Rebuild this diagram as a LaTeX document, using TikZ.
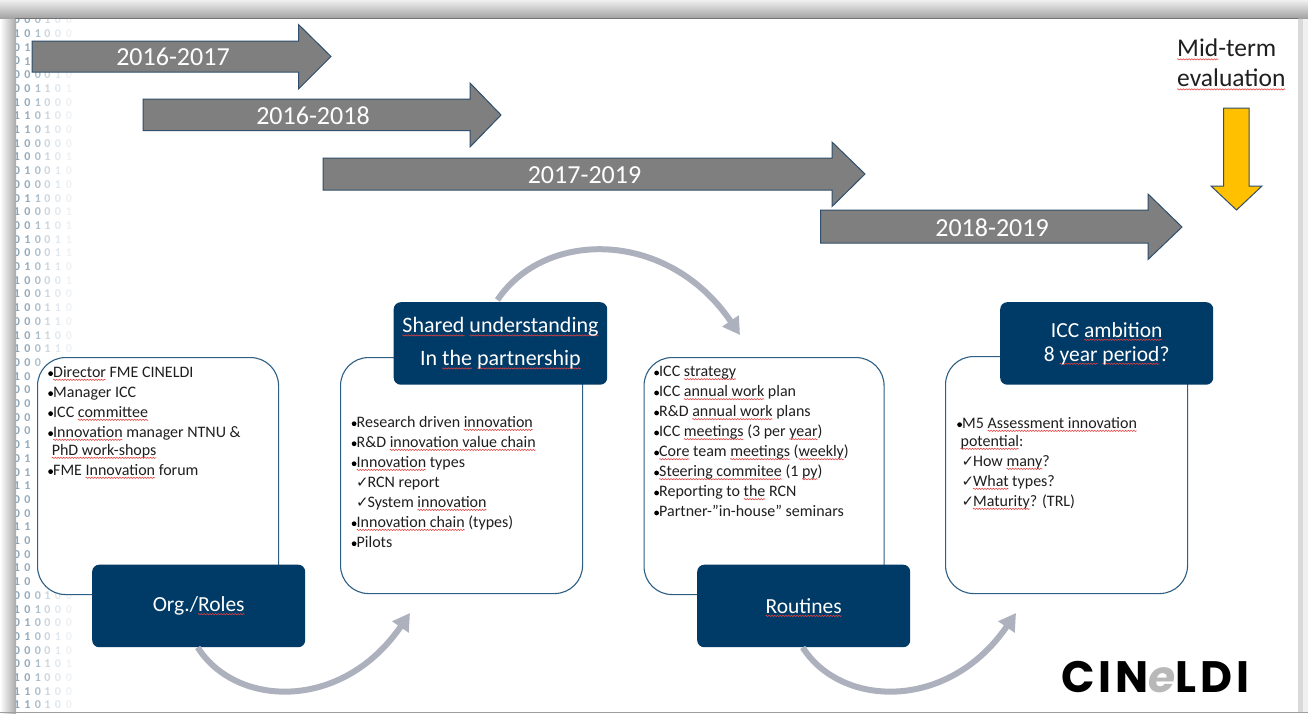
\documentclass[tikz,border=0pt]{standalone}
\usepackage{fontspec}
\setmainfont{Carlito}
\newfontfamily\symf{DejaVu Sans}
\newfontfamily\logof[LetterSpace=9]{Poppins}
\usetikzlibrary{arrows.meta,decorations.pathmorphing}
\definecolor{navy}{HTML}{003A66}
\definecolor{edge}{HTML}{2E5F85}
\definecolor{arrowgrey}{HTML}{7F7F7F}
\definecolor{arrowedge}{HTML}{2F4F6C}
\definecolor{amber}{HTML}{FFC000}
\definecolor{curve}{HTML}{ADB1BD}
\definecolor{dgA}{HTML}{8AA4B8}
\definecolor{dgB}{HTML}{94ABBD}
\definecolor{dgC}{HTML}{AEBFCC}
\definecolor{dgD}{HTML}{CCD7E0}
\definecolor{dgE}{HTML}{E2E8ED}
\definecolor{dgF}{HTML}{EFF2F5}
\definecolor{squig}{HTML}{E8403F}
\newsavebox{\sqbox}
\newcommand{\sq}[1]{\sbox{\sqbox}{#1}\rlap{\tikz[overlay,baseline=0pt,sharp corners]\draw[squig,line width=.55pt,decorate,decoration={zigzag,amplitude=.65pt,segment length=2.8pt}] (0pt,-2.6pt) -- (\wd\sqbox,-2.6pt);}\usebox{\sqbox}}
\newcommand{\bu}{\makebox[5pt][l]{\tikz[overlay,baseline=0pt,sharp corners]\fill[black] (2.4pt,3.6pt) circle (2.4pt);}}
\newcommand{\ck}{\hspace{4.4pt}\makebox[11.5pt][l]{{\symf\fontsize{15}{15}\selectfont ✓}}}
\tikzset{
  x=1pt,y=-1pt,
  span/.style={draw=arrowedge,line width=1pt,fill=arrowgrey,line join=miter},
  spanlabel/.style={text=white,font=\fontsize{26}{28}\selectfont,inner sep=0},
  bodybox/.style={draw=edge,line width=1.1pt,fill=white,rounded corners=28pt},
  headbox/.style={fill=navy,rounded corners=7pt,inner sep=0,text=white,align=center,font=\fontsize{21.5}{24}\selectfont},
  bodytext/.style={anchor=north west,inner sep=0,align=left,text=black!88,font=\fontsize{16}{20}\selectfont},
  loop/.style={draw=curve,line width=6pt,-{Triangle[length=17pt,width=19pt]}},
  digit/.style={inner sep=0,font=\fontsize{12}{12}\selectfont\bfseries}
}
\begin{document}
\begin{tikzpicture}
\useasboundingbox (0,0) rectangle (1308,713);
\fill[white] (0,0) rectangle (1308,713);
% binary column
\foreach \da/\db/\dc/\dd/\de/\df [count=\ri from 0] in {
0/0/0/1/0/0,1/0/1/0/0/0,0/1/0/0/0/0,0/1/0/0/0/0,0/0/0/0/1/0,0/0/1/1/0/1,1/0/1/0/0/0,
1/1/0/1/0/0,1/1/0/1/0/0,1/0/0/0/0/0,1/0/0/1/0/1,0/1/0/0/1/0,0/0/0/0/1/0,0/1/1/0/0/0,
1/0/0/0/0/1,0/0/1/1/0/1,0/1/0/0/1/1,0/0/0/0/1/1,0/1/0/1/1/0,1/0/0/0/0/1,1/0/0/1/0/0,
1/0/0/1/1/0,0/0/0/1/1/0,1/0/1/1/0/0,1/0/0/1/1/0,0/0/0/1/1/0,1/0/0/0/0/0,0/0/0/0/0/0,
0/0/0/0/0/0,0/0/0/0/0/0,0/0/0/0/0/0,0/1/0/0/0/0,0/1/0/0/0/0,0/1/0/0/0/0,1/1/0/0/0/0,
0/0/0/0/0/0,0/0/0/0/0/0,1/1/0/0/0/0,1/0/0/0/0/0,0/0/0/0/0/0,1/0/0/0/0/0,1/0/0/0/0/0,
0/0/0/1/0/0,1/0/1/0/0/0,0/1/0/0/0/0,0/1/0/0/1/0,0/0/0/0/1/0,0/0/1/1/0/1,1/0/1/0/0/0,
1/1/0/1/0/0,1/1/0/1/0/0}{
  \pgfmathsetmacro{\ry}{20+\ri*13.7}
  \pgfmathtruncatemacro{\hid}{((\ri>25 && \ri<42) || \ri==2 || \ri==3) ? 1 : 0}
  \node[digit,text=dgA] (da\ri) at (17,\ry) {\da};
  \node[digit,text=dgB] (db\ri) at (27.5,\ry) {\db};
  \ifnum\hid=0
  \node[digit,text=dgC] (dc\ri) at (38,\ry) {\dc};
  \ifnum\ri=25\else
  \node[digit,text=dgD] (dd\ri) at (47.5,\ry) {\dd};
  \node[digit,text=dgE] (de\ri) at (58,\ry) {\de};
  \node[digit,text=dgF] (df\ri) at (69,\ry) {\df};
  \fi
  \fi
}
% frame shadow
\shade[left color=white,right color=black!34] (0,0) rectangle (16,713);
\shade[top color=black!6,bottom color=black!36] (0,0) rectangle (1308,18);
\fill[black!55] (15,18) rectangle (1298,19);
\fill[white!85!black] (1298,19) rectangle (1303,713);
\fill[white!94!black] (1303,19) rectangle (1308,713);
\fill[black!38] (0,711.5) rectangle (1308,713);
% timeline arrows
\draw[span] (32,41) -- (298.5,41) -- (298.5,24.5) -- (331,56.5) -- (298.5,89) -- (298.5,72) -- (32,72) -- cycle;
\draw[span] (143,99) -- (470,99) -- (470,83) -- (501,115) -- (470,147) -- (470,130.5) -- (143,130.5) -- cycle;
\draw[span] (323,158) -- (832,158) -- (832,142) -- (865,174) -- (832,206.5) -- (832,190) -- (323,190) -- cycle;
\draw[span] (820.5,210) -- (1148,210) -- (1148,194) -- (1182,227) -- (1148,259.5) -- (1148,243) -- (820.5,243) -- cycle;
\node[spanlabel] (s1) at (173,57) {2016-2017};
\node[spanlabel] (s2) at (313,116) {2016-2018};
\node[spanlabel] (s3) at (584.5,175) {2017-2019};
\node[spanlabel] (s4) at (992,228) {2018-2019};
% mid-term
\node[anchor=west,inner sep=0,align=left,text=black!88,font=\fontsize{25.5}{30}\selectfont] (mid) at (1177,63) {\sq{Mid}-term\\\sq{evaluation}};
\draw[draw=arrowedge,line width=1pt,fill=amber] (1223.5,108) -- (1249,108) -- (1249,186) -- (1262,186) -- (1236.5,210) -- (1211,186) -- (1223.5,186) -- cycle;
% body boxes
\node[bodybox,minimum width=241pt,minimum height=237pt,inner sep=0,anchor=north west] (b1) at (37,357) {};
\node[bodybox,minimum width=242pt,minimum height=236pt,inner sep=0,anchor=north west] (b2) at (340,357) {};
\node[bodybox,minimum width=240pt,minimum height=237pt,inner sep=0,anchor=north west] (b3) at (643.5,357) {};
\node[bodybox,minimum width=242pt,minimum height=237pt,inner sep=0,anchor=north west] (b4) at (945,356) {};
% head boxes
\node[headbox,minimum width=213pt,minimum height=82.5pt,anchor=north west] (n1) at (92,564.5) {Org./\sq{Roles}};
\node[headbox,minimum width=213.5pt,minimum height=82.5pt,anchor=north west,font=\fontsize{22}{33}\selectfont] (n2) at (393.5,302) {\sq{Shared} \sq{understanding}\\In \sq{the} \sq{partnership}};
\node[headbox,minimum width=213pt,minimum height=82.5pt,anchor=north west] (n3) at (697,564.5) {\sq{Routines}};
\node[headbox,minimum width=213pt,minimum height=82.5pt,anchor=north west] (n4) at (1000,302) {ICC \sq{ambition}\\8 \sq{year} \sq{period}?};
% curved connectors
\coordinate (c1end) at (410,613);
\coordinate (c2end) at (740,335);
\coordinate (c3end) at (1016,613);
\draw[loop] ([xshift=-1pt]n1.south) .. controls +(38,60) and (342,712) .. (c1end);
\draw[loop] ([xshift=-3pt,yshift=2pt]n2.north) .. controls (545,229) and (668,229) .. (c2end);
\draw[loop] ([xshift=-1pt]n3.south) .. controls +(38,60) and (948,712) .. (c3end);
% body text
\node[bodytext] (t1) at (48,366) {\bu\sq{Director} FME CINELDI\\\bu Manager ICC\\\bu ICC \sq{committee}\\\bu\sq{Innovation} manager NTNU \&\\[-2pt]\hspace{3.6pt}\sq{PhD work-shops}\\\bu FME \sq{Innovation} forum};
\node[bodytext] (t2) at (351.5,416) {\bu Research driven \sq{innovation}\\\bu R\&D \sq{innovation value chain}\\\bu\sq{Innovation} types\\\ck RCN report\\\ck System \sq{innovation}\\\bu\sq{Innovation chain} (types)\\\bu Pilots};
\node[bodytext] (t3) at (654,366) {\bu ICC \sq{strategy}\\\bu ICC \sq{annual work} plan\\\bu R\&D \sq{annual work} plans\\\bu ICC \sq{meetings} (3 per \sq{year})\\\bu\sq{Core} team \sq{meetings} (\sq{weekly})\\\bu\sq{Steering commitee} (1 \sq{py})\\\bu Reporting to \sq{the} RCN\\\bu Partner-"in-house" seminars};
\node[bodytext] (t4) at (957,417) {\bu M5 \sq{Assessment innovation}\\[-2pt]\hspace{3.4pt}\sq{potential}:\\\ck How \sq{many}?\\\ck\sq{What} types?\\\ck\sq{Maturity}? (TRL)};
% logo
\node[anchor=west,inner sep=0,font=\fontsize{44}{44}\selectfont\logof\bfseries,text=black] (logo) at (1061,677) {CIN\textcolor{black!28}{\itshape e}LDI};
\end{tikzpicture}
\end{document}
